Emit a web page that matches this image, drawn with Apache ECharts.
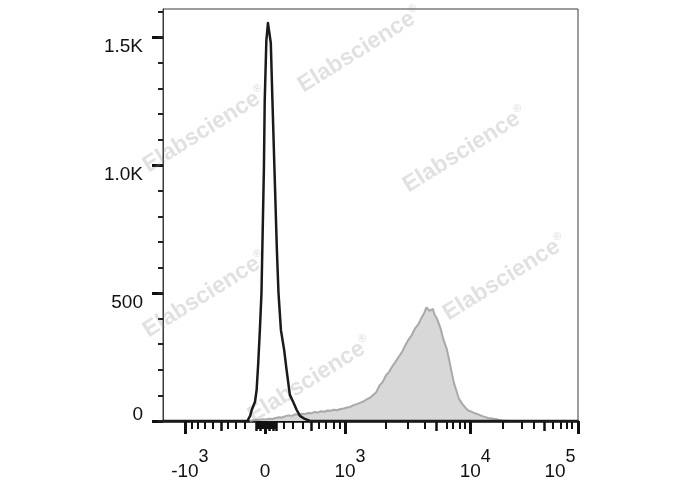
<!DOCTYPE html>
<html><head><meta charset="utf-8">
<script src="https://cdn.jsdelivr.net/npm/echarts@6/dist/echarts.min.js"></script>
<style>html,body{margin:0;padding:0;background:#fff}#c{width:688px;height:490px}</style>
</head><body><div id="c"></div>
<script>
// ---- Data (x in display channels 0..1024 of the biexponential axis, y in counts) ----
const yLabelValues = [0, 500, 1000, 1500];
const yLabelTexts = ['0', '500', '1.0K', '1.5K'];
const yMinorTicks = [0,100,200,300,400,500,600,700,800,900,1000,1100,1200,1300,1400,1500,1600];

const xMajorTicks = [54, 252, 449, 758, 1024];
const xLabelBase = ['-10', '0', '10', '10', '10'];
const xLabelExp = ['3', '', '3', '4', '5'];
const xMediumTicks = [143, 230, 240, 263, 272, 279, 365, 674, 940];
const xMinorTicks = [72, 86, 104, 123, 160, 180, 202, 234, 237, 244, 247, 256, 259, 266, 268, 276, 299, 321, 345, 385, 402, 422, 437,
  550, 605, 646, 701, 716, 733, 745, 839, 886, 915, 962, 982, 997, 1009];

const blackX = [0, 208, 215, 219, 227, 231, 235, 239, 243, 249, 251, 255, 259, 266, 270, 275, 281, 285, 291, 299, 305, 313, 321, 330, 338, 350, 363, 1024];
const blackY = [0, 0, 20, 43, 75, 121, 226, 355, 500, 988, 1252, 1486, 1555, 1477, 1254, 986, 668, 500, 355, 277, 199, 102, 75, 43, 20, 8, 0, 0];

const greyX = [214, 222, 230, 238, 246, 254, 262, 270, 278, 286, 294, 302, 310, 318, 326, 334, 342, 350, 358, 366, 374, 382, 390, 398, 406, 414, 422, 430, 438, 446, 454, 462, 470, 478, 486, 494, 502, 510, 518, 526, 534, 542, 550, 558, 566, 574, 582, 590, 598, 606, 614, 622, 630, 638, 644, 650, 654, 658, 662, 666, 670, 676, 684, 692, 700, 706, 712, 718, 724, 730, 738, 746, 754, 762, 770, 778, 786, 794, 802, 812, 822, 830, 836, 844, 852];
const greyY = [0, 3, 5, 4, 7, 6, 9, 8, 12, 15, 14, 19, 22, 20, 26, 24, 28, 27, 31, 30, 35, 33, 38, 36, 41, 40, 44, 42, 47, 49, 53, 55, 62, 66, 71, 76, 84, 90, 101, 112, 138, 152, 178, 192, 214, 232, 252, 270, 296, 318, 336, 362, 378, 404, 420, 444, 448, 430, 424, 438, 416, 400, 366, 318, 282, 240, 192, 148, 118, 88, 68, 52, 40, 36, 30, 26, 20, 16, 12, 10, 7, 4, 2, 1, 0];

const watermarkText = 'Elabscience';
const watermarkCenters = [[360, 50], [205, 130], [465, 150], [205, 295], [505, 278], [310, 380]];

// ---- Chart ----
const FONT = '"Liberation Sans", Arial, sans-serif';
const chart = echarts.init(document.getElementById('c'), null, {renderer: 'canvas'});

const pair = (xs, ys) => xs.map((x, i) => [x, ys[i]]);

function xLabel(v) {
  const i = xMajorTicks.indexOf(v);
  if (i < 0) return '';
  if (!xLabelExp[i]) return '{z|' + xLabelBase[i] + '}';
  if (i === xMajorTicks.length - 1) return '{b|' + xLabelBase[i] + '}{s|' + xLabelExp[i] + '}{pr| }';
  return '{pl| }{b|' + xLabelBase[i] + '}{s|' + xLabelExp[i] + '}';
}
function yLabel(v) {
  const i = yLabelValues.indexOf(v);
  if (i < 0) return '';
  return (v === 0 ? '{u|' : '{d|') + yLabelTexts[i] + '}';
}

const xCommon = {type: 'value', min: 0, max: 1024, position: 'bottom', gridIndex: 0, splitLine: {show: false}};
const yCommon = {type: 'value', min: 0, max: 1610, position: 'left', gridIndex: 0, splitLine: {show: false}};

const option = {
  animation: false,
  backgroundColor: '#ffffff',
  grid: {left: 163, top: 9, width: 415, height: 412, show: true, borderColor: '#3a3a3a', borderWidth: 1,
         containLabel: false, outerBoundsMode: 'none'},
  xAxis: [
    Object.assign({}, xCommon, {
      axisLine: {show: true, lineStyle: {color: '#111', width: 2.5}},
      axisTick: {show: true, customValues: xMajorTicks, length: 13, lineStyle: {color: '#111', width: 3}},
      axisLabel: {
        show: true, customValues: xMajorTicks, formatter: xLabel, margin: 40, color: '#111',
        fontFamily: FONT, fontSize: 19,
        rich: {
          b: {fontFamily: FONT, fontSize: 19, lineHeight: 21, color: '#111'},
          z: {fontFamily: FONT, fontSize: 19, lineHeight: 21, color: '#111', padding: [14, 0, 14, 0]},
          s: {fontFamily: FONT, fontSize: 18, lineHeight: 21, color: '#111', padding: [0, 0, 28, 0]},
          pl: {width: 10, fontSize: 18, lineHeight: 21},
          pr: {width: 36, fontSize: 18, lineHeight: 21}
        }
      }
    }),
    Object.assign({}, xCommon, {
      axisLine: {show: false},
      axisTick: {show: true, customValues: xMediumTicks, length: 10, lineStyle: {color: '#111', width: 2.5}},
      axisLabel: {show: false}
    }),
    Object.assign({}, xCommon, {
      axisLine: {show: false},
      axisTick: {show: true, customValues: xMinorTicks, length: 8, lineStyle: {color: '#111', width: 2}},
      axisLabel: {show: false}
    })
  ],
  yAxis: [
    Object.assign({}, yCommon, {
      axisLine: {show: true, lineStyle: {color: '#3a3a3a', width: 1}},
      axisTick: {show: true, customValues: yLabelValues, length: 11, lineStyle: {color: '#111', width: 3}},
      axisLabel: {
        show: true, customValues: yLabelValues, formatter: yLabel, margin: 20, color: '#111',
        fontFamily: FONT, fontSize: 19, align: 'right',
        rich: {
          u: {fontFamily: FONT, fontSize: 19, lineHeight: 21, color: '#111', padding: [0, 0, 12, 0]},
          d: {fontFamily: FONT, fontSize: 19, lineHeight: 21, color: '#111', padding: [20, 0, 0, 0]}
        }
      }
    }),
    Object.assign({}, yCommon, {
      axisLine: {show: false},
      axisTick: {show: true, customValues: yMinorTicks, length: 5, lineStyle: {color: '#222', width: 2}},
      axisLabel: {show: false}
    })
  ],
  graphic: {
    elements: watermarkCenters.map(c => ({
      type: 'text', x: c[0], y: c[1], rotation: 32 * Math.PI / 180, z: 3, silent: true,
      style: {
        text: '{a|' + watermarkText + '}{r|®}',
        align: 'center', verticalAlign: 'middle',
        rich: {
          a: {fontFamily: FONT, fontSize: 23, fontWeight: 'bold', fill: 'rgba(140,140,140,0.26)'},
          r: {fontFamily: FONT, fontSize: 11, fontWeight: 'bold', fill: 'rgba(140,140,140,0.26)', padding: [0, 0, 14, 0]}
        }
      }
    }))
  },
  series: [
    {
      type: 'line', xAxisIndex: 0, yAxisIndex: 0, data: pair(greyX, greyY), symbol: 'none', z: 2,
      lineStyle: {color: '#a9a9a9', width: 2},
      areaStyle: {color: '#d9d8d8', opacity: 1}
    },
    {
      type: 'line', xAxisIndex: 0, yAxisIndex: 0, data: pair(blackX, blackY), symbol: 'none', z: 4,
      lineStyle: {color: '#1a1a1a', width: 2.5, join: 'round'}
    }
  ]
};
chart.setOption(option);
</script>
</body></html>
